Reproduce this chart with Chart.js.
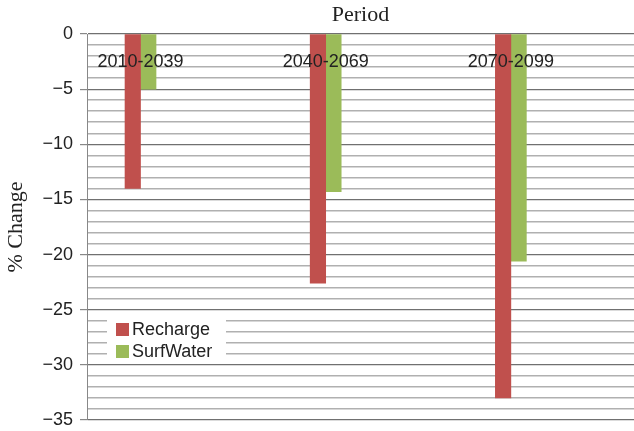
<!DOCTYPE html>
<html>
<head>
<meta charset="utf-8">
<script src="https://cdn.jsdelivr.net/npm/chart.js@4.4.0/dist/chart.umd.min.js"></script>
<style>
    html, body { margin: 0; padding: 0; background: #fff; }
    #caixa { width: 634px; height: 431px; }
</style>
</head>
<body>
<div id="caixa"><canvas id="grafico"></canvas></div>
<script>
var periods = ['2010-2039', '2040-2069', '2070-2099'];
var recharge = [-14.0, -22.6, -33.0];
var surf_water = [-5.0, -14.3, -20.6];
var series_names = ['Recharge', 'SurfWater'];
var series_colors = ['#C0504D', '#9BBB59'];
var y_min = -35;
var y_max = 0;
var y_step = 1;
var y_label_every = 5;

var sans = 'Liberation Sans, Arial, sans-serif';
var serif = 'Liberation Serif, Times New Roman, serif';

function to_points(lista) {
    var saida = [];
    for (let c = 0; c < lista.length; c++) {
        saida.push({ x: c, y: lista[c] });
    }
    return saida;
}

function minus(v) {
    if (v < 0) return '\u2212' + Math.abs(v);
    return '' + v;
}

// titulo, rotulos das categorias e legenda dentro da area
var extras = {
    id: 'extras',
    afterDraw: function (chart) {
        var ctx = chart.ctx;
        var area = chart.chartArea;
        var sx = chart.scales.x;
        var sy = chart.scales.y;
        ctx.save();

        ctx.fillStyle = '#222';
        ctx.font = '22px ' + serif;
        ctx.textAlign = 'center';
        ctx.textBaseline = 'middle';
        ctx.fillText('Period', (area.left + area.right) / 2, 15);

        ctx.font = '18px ' + sans;
        for (let c = 0; c < periods.length; c++) {
            ctx.fillText(periods[c], sx.getPixelForValue(c), sy.getPixelForValue(-2.5));
        }

        // legenda
        ctx.fillStyle = '#fff';
        ctx.fillRect(107, 315, 119, 45);
        ctx.textAlign = 'left';
        var ds = chart.data.datasets;
        for (let c = 0; c < ds.length; c++) {
            var yy = 323 + c * 22;
            ctx.fillStyle = ds[c].backgroundColor;
            ctx.fillRect(116, yy, 13, 13);
            ctx.fillStyle = '#222';
            ctx.fillText(ds[c].label, 132, yy + 7);
        }
        ctx.restore();
    }
};

const data = {
    datasets: [{
        label: series_names[0],
        data: to_points(recharge),
        backgroundColor: series_colors[0],
        borderWidth: 0,
        barThickness: 15.5
    }, {
        label: series_names[1],
        data: to_points(surf_water),
        backgroundColor: series_colors[1],
        borderWidth: 0,
        barThickness: 15.5
    }]
};

const config = {
    type: 'bar',
    data: data,
    options: {
        responsive: true,
        maintainAspectRatio: false,
        animation: false,
        layout: { padding: { top: 34, bottom: 11, left: 0, right: 0 } },
        plugins: {
            legend: { display: false },
            title: { display: false },
            tooltip: { enabled: false }
        },
        scales: {
            x: {
                type: 'linear',
                min: -0.289,
                max: 2.665,
                offset: false,
                display: false
            },
            y: {
                min: y_min,
                max: y_max,
                afterFit: function (s) {
                    s.width = 87;
                    s.paddingTop = 0;
                    s.paddingBottom = 0;
                },
                ticks: {
                    stepSize: y_step,
                    autoSkip: false,
                    padding: 7,
                    color: '#222',
                    font: { family: sans, size: 18 },
                    callback: function (v) {
                        if (v % y_label_every == 0) return minus(v);
                        return '';
                    }
                },
                grid: {
                    tickLength: 7,
                    color: function (c) {
                        return c.tick.value % y_label_every == 0 ? '#707070' : '#b0b0b0';
                    },
                    lineWidth: function (c) {
                        return c.tick.value % y_label_every == 0 ? 1.2 : 1.5;
                    },
                    tickColor: function (c) {
                        return c.tick.value % y_label_every == 0 ? '#888' : 'rgba(0,0,0,0)';
                    }
                },
                border: { color: '#888', width: 1 },
                title: {
                    display: true,
                    text: '% Change',
                    color: '#222',
                    font: { family: serif, size: 22 },
                    padding: { top: 3, bottom: 0 }
                }
            }
        }
    },
    plugins: [extras]
};

const myChart = new Chart(document.getElementById('grafico'), config);
</script>
</body>
</html>
